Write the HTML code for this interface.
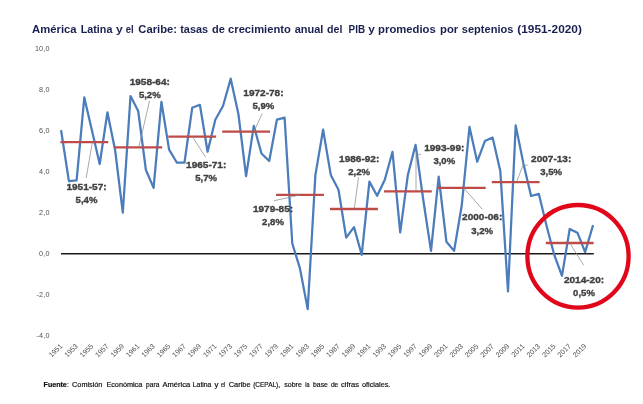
<!DOCTYPE html>
<html><head><meta charset="utf-8"><title>Chart</title>
<style>
html,body{margin:0;padding:0;background:#fff;}
body{width:643px;height:404px;overflow:hidden;font-family:"Liberation Sans",sans-serif;}
svg{display:block;will-change:transform;font-family:"Liberation Sans",sans-serif;}
.title text{font-weight:bold;font-size:10.1px;fill:#1a2150;}
.ylab text{font-size:7.2px;fill:#505050;text-anchor:end;letter-spacing:0.2px;}
.xlab text{font-size:7.1px;fill:#505050;text-anchor:middle;}
.lab text{font-size:9.5px;font-weight:bold;fill:#404040;stroke:#404040;stroke-width:0.35;text-anchor:middle;}
.red line{stroke:#be4b48;stroke-width:2.3;}
.lead path{stroke:#8c8c8c;stroke-width:0.75;fill:none;}
.foot text{font-size:6.6px;fill:#111;stroke:#111;stroke-width:0.18;}
</style></head><body>
<svg width="643" height="404" viewBox="0 0 643 404">
<rect width="643" height="404" fill="#ffffff"/>
<g class="title"><text x="32.0" y="32.5" textLength="44.6" lengthAdjust="spacingAndGlyphs">América</text><text x="80.7" y="32.5" textLength="31.7" lengthAdjust="spacingAndGlyphs">Latina</text><text x="116.0" y="32.5" textLength="6.8" lengthAdjust="spacingAndGlyphs">y</text><text x="125.8" y="32.5" textLength="7.9" lengthAdjust="spacingAndGlyphs">el</text><text x="138.3" y="32.5" textLength="38.7" lengthAdjust="spacingAndGlyphs">Caribe:</text><text x="180.2" y="32.5" textLength="27.9" lengthAdjust="spacingAndGlyphs">tasas</text><text x="212.1" y="32.5" textLength="12.9" lengthAdjust="spacingAndGlyphs">de</text><text x="228.1" y="32.5" textLength="62.7" lengthAdjust="spacingAndGlyphs">crecimiento</text><text x="294.7" y="32.5" textLength="28.7" lengthAdjust="spacingAndGlyphs">anual</text><text x="327.1" y="32.5" textLength="15.4" lengthAdjust="spacingAndGlyphs">del</text><text x="348.6" y="32.5" textLength="16.5" lengthAdjust="spacingAndGlyphs">PIB</text><text x="368.3" y="32.5" textLength="6.6" lengthAdjust="spacingAndGlyphs">y</text><text x="378.1" y="32.5" textLength="57.7" lengthAdjust="spacingAndGlyphs">promedios</text><text x="440.0" y="32.5" textLength="18.2" lengthAdjust="spacingAndGlyphs">por</text><text x="461.8" y="32.5" textLength="51.6" lengthAdjust="spacingAndGlyphs">septenios</text><text x="517.3" y="32.5" textLength="64.6" lengthAdjust="spacingAndGlyphs">(1951-2020)</text></g>
<g class="ylab"><text x="49.7" y="51.2">10,0</text><text x="49.7" y="92.2">8,0</text><text x="49.7" y="133.2">6,0</text><text x="49.7" y="174.2">4,0</text><text x="49.7" y="215.2">2,0</text><text x="49.7" y="256.2">0,0</text><text x="49.7" y="297.2">-2,0</text><text x="49.7" y="338.2">-4,0</text></g>
<line x1="61" y1="253.7" x2="593.8" y2="253.7" stroke="#1a1a1a" stroke-width="1.5"/>
<polyline points="61.2,131.0 68.9,181.1 76.6,180.4 84.3,97.4 92.0,130.7 99.7,164.0 107.4,112.3 115.1,150.0 122.8,212.7 130.5,96.1 138.2,111.0 145.9,170.0 153.6,187.9 161.4,101.8 169.1,149.6 176.8,162.5 184.5,162.5 192.2,107.8 199.9,104.8 207.6,151.7 215.3,119.7 223.0,106.0 230.7,78.7 238.4,114.0 246.1,176.1 253.8,125.9 261.5,153.5 269.2,161.0 276.9,119.7 284.6,117.7 292.3,243.5 300.0,268.6 307.7,309.1 315.4,174.9 323.1,129.7 330.8,174.9 338.5,189.8 346.2,237.6 354.0,227.1 361.7,254.8 369.4,181.6 377.1,195.8 384.8,179.7 392.5,151.8 400.2,232.3 407.9,174.7 415.6,144.8 423.3,200.0 431.0,250.9 438.7,176.7 446.4,241.7 454.1,250.9 461.8,205.0 469.5,126.9 477.2,161.7 484.9,141.1 492.6,137.6 500.3,170.9 508.0,291.5 515.7,125.4 523.4,163.4 531.1,196.0 538.8,193.8 546.6,226.0 554.3,255.0 562.0,275.8 569.7,229.0 577.4,232.7 585.1,252.1 592.8,226.0" fill="none" stroke="#4b7cbb" stroke-width="2.25" stroke-linejoin="round" stroke-linecap="round"/>
<g class="red"><line x1="60.4" y1="142.1" x2="108.2" y2="142.1"/><line x1="114.3" y1="147.4" x2="162.2" y2="147.4"/><line x1="168.3" y1="136.7" x2="216.1" y2="136.7"/><line x1="222.2" y1="131.6" x2="270.0" y2="131.6"/><line x1="276.1" y1="194.8" x2="323.9" y2="194.8"/><line x1="330.0" y1="209" x2="377.9" y2="209"/><line x1="384.0" y1="191.3" x2="431.8" y2="191.3"/><line x1="437.9" y1="187.9" x2="485.7" y2="187.9"/><line x1="491.8" y1="182.2" x2="539.6" y2="182.2"/><line x1="545.8" y1="243" x2="593.6" y2="243"/></g>
<g class="lead"><path d="M92.3,142.3 L86.2,178"/><path d="M149.5,101 L138.8,147.1"/><path d="M192.4,136.7 L205.5,157"/><path d="M262.2,113.5 L254,131.4"/><path d="M273.8,200.8 L299.6,195"/><path d="M358.5,177.4 L354.3,208.5"/><path d="M421,154.3 L416,154.3 L416,190.8"/><path d="M463.7,187.9 L482.4,209.4"/><path d="M527.5,165.2 L523,165.2 L516.5,182"/><path d="M570,243.4 L583.7,265.3"/></g>
<g class="lab"><text x="86.5" y="189.6" textLength="40.2" lengthAdjust="spacingAndGlyphs">1951-57:</text><text x="86.5" y="202.6" textLength="21.8" lengthAdjust="spacingAndGlyphs">5,4%</text><text x="149.8" y="84.6" textLength="40.2" lengthAdjust="spacingAndGlyphs">1958-64:</text><text x="149.8" y="97.8" textLength="21.8" lengthAdjust="spacingAndGlyphs">5,2%</text><text x="206.2" y="168.3" textLength="40.2" lengthAdjust="spacingAndGlyphs">1965-71:</text><text x="206.2" y="181.2" textLength="21.8" lengthAdjust="spacingAndGlyphs">5,7%</text><text x="263.4" y="95.9" textLength="40.2" lengthAdjust="spacingAndGlyphs">1972-78:</text><text x="263.4" y="109.3" textLength="21.8" lengthAdjust="spacingAndGlyphs">5,9%</text><text x="273.0" y="211.6" textLength="40.2" lengthAdjust="spacingAndGlyphs">1979-85:</text><text x="273.0" y="224.9" textLength="21.8" lengthAdjust="spacingAndGlyphs">2,8%</text><text x="359.2" y="161.5" textLength="40.2" lengthAdjust="spacingAndGlyphs">1986-92:</text><text x="359.2" y="174.9" textLength="21.8" lengthAdjust="spacingAndGlyphs">2,2%</text><text x="444.3" y="151.4" textLength="40.2" lengthAdjust="spacingAndGlyphs">1993-99:</text><text x="444.3" y="164.3" textLength="21.8" lengthAdjust="spacingAndGlyphs">3,0%</text><text x="482.2" y="220.3" textLength="40.2" lengthAdjust="spacingAndGlyphs">2000-06:</text><text x="482.2" y="233.5" textLength="21.8" lengthAdjust="spacingAndGlyphs">3,2%</text><text x="551.2" y="161.8" textLength="40.2" lengthAdjust="spacingAndGlyphs">2007-13:</text><text x="551.2" y="175.4" textLength="21.8" lengthAdjust="spacingAndGlyphs">3,5%</text><text x="584" y="282.7" textLength="40.2" lengthAdjust="spacingAndGlyphs">2014-20:</text><text x="584" y="295.7" textLength="21.8" lengthAdjust="spacingAndGlyphs">0,5%</text></g>
<g class="xlab"><text transform="translate(55.6,350.4) rotate(-45)" y="2.5">1951</text><text transform="translate(71.0,350.4) rotate(-45)" y="2.5">1953</text><text transform="translate(86.4,350.4) rotate(-45)" y="2.5">1955</text><text transform="translate(101.8,350.4) rotate(-45)" y="2.5">1957</text><text transform="translate(117.2,350.4) rotate(-45)" y="2.5">1959</text><text transform="translate(132.6,350.4) rotate(-45)" y="2.5">1961</text><text transform="translate(148.0,350.4) rotate(-45)" y="2.5">1963</text><text transform="translate(163.5,350.4) rotate(-45)" y="2.5">1965</text><text transform="translate(178.9,350.4) rotate(-45)" y="2.5">1967</text><text transform="translate(194.3,350.4) rotate(-45)" y="2.5">1969</text><text transform="translate(209.7,350.4) rotate(-45)" y="2.5">1971</text><text transform="translate(225.1,350.4) rotate(-45)" y="2.5">1973</text><text transform="translate(240.5,350.4) rotate(-45)" y="2.5">1975</text><text transform="translate(255.9,350.4) rotate(-45)" y="2.5">1977</text><text transform="translate(271.3,350.4) rotate(-45)" y="2.5">1979</text><text transform="translate(286.7,350.4) rotate(-45)" y="2.5">1981</text><text transform="translate(302.1,350.4) rotate(-45)" y="2.5">1983</text><text transform="translate(317.5,350.4) rotate(-45)" y="2.5">1985</text><text transform="translate(332.9,350.4) rotate(-45)" y="2.5">1987</text><text transform="translate(348.4,350.4) rotate(-45)" y="2.5">1989</text><text transform="translate(363.8,350.4) rotate(-45)" y="2.5">1991</text><text transform="translate(379.2,350.4) rotate(-45)" y="2.5">1993</text><text transform="translate(394.6,350.4) rotate(-45)" y="2.5">1995</text><text transform="translate(410.0,350.4) rotate(-45)" y="2.5">1997</text><text transform="translate(425.4,350.4) rotate(-45)" y="2.5">1999</text><text transform="translate(440.8,350.4) rotate(-45)" y="2.5">2001</text><text transform="translate(456.2,350.4) rotate(-45)" y="2.5">2003</text><text transform="translate(471.6,350.4) rotate(-45)" y="2.5">2005</text><text transform="translate(487.0,350.4) rotate(-45)" y="2.5">2007</text><text transform="translate(502.4,350.4) rotate(-45)" y="2.5">2009</text><text transform="translate(517.8,350.4) rotate(-45)" y="2.5">2011</text><text transform="translate(533.2,350.4) rotate(-45)" y="2.5">2013</text><text transform="translate(548.7,350.4) rotate(-45)" y="2.5">2015</text><text transform="translate(564.1,350.4) rotate(-45)" y="2.5">2017</text><text transform="translate(579.5,350.4) rotate(-45)" y="2.5">2019</text></g>
<ellipse cx="578" cy="256.3" rx="50.6" ry="51.3" fill="none" stroke="#e1061a" stroke-width="4.3"/>
<g class="foot"><text x="43.6" y="386.6" textLength="23.2" lengthAdjust="spacingAndGlyphs" font-weight="bold">Fuente</text><text x="67.0" y="386.6">:</text><text x="72.1" y="386.6" textLength="30.3" lengthAdjust="spacingAndGlyphs">Comisión</text><text x="106.4" y="386.6" textLength="35.9" lengthAdjust="spacingAndGlyphs">Económica</text><text x="146.1" y="386.6" textLength="13.3" lengthAdjust="spacingAndGlyphs">para</text><text x="162.5" y="386.6" textLength="27.6" lengthAdjust="spacingAndGlyphs">América</text><text x="192.8" y="386.6" textLength="18.6" lengthAdjust="spacingAndGlyphs">Latina</text><text x="214.6" y="386.6" textLength="3.9" lengthAdjust="spacingAndGlyphs">y</text><text x="221.1" y="386.6" textLength="4.2" lengthAdjust="spacingAndGlyphs">el</text><text x="228.8" y="386.6" textLength="21.7" lengthAdjust="spacingAndGlyphs">Caribe</text><text x="253.2" y="386.6" textLength="26.9" lengthAdjust="spacingAndGlyphs">(CEPAL),</text><text x="284.3" y="386.6" textLength="17.5" lengthAdjust="spacingAndGlyphs">sobre</text><text x="305.2" y="386.6" textLength="4.3" lengthAdjust="spacingAndGlyphs">la</text><text x="313.0" y="386.6" textLength="14.9" lengthAdjust="spacingAndGlyphs">base</text><text x="330.9" y="386.6" textLength="7.4" lengthAdjust="spacingAndGlyphs">de</text><text x="341.0" y="386.6" textLength="18.0" lengthAdjust="spacingAndGlyphs">cifras</text><text x="362.0" y="386.6" textLength="28.4" lengthAdjust="spacingAndGlyphs">oficiales.</text></g>
</svg>
</body></html>
